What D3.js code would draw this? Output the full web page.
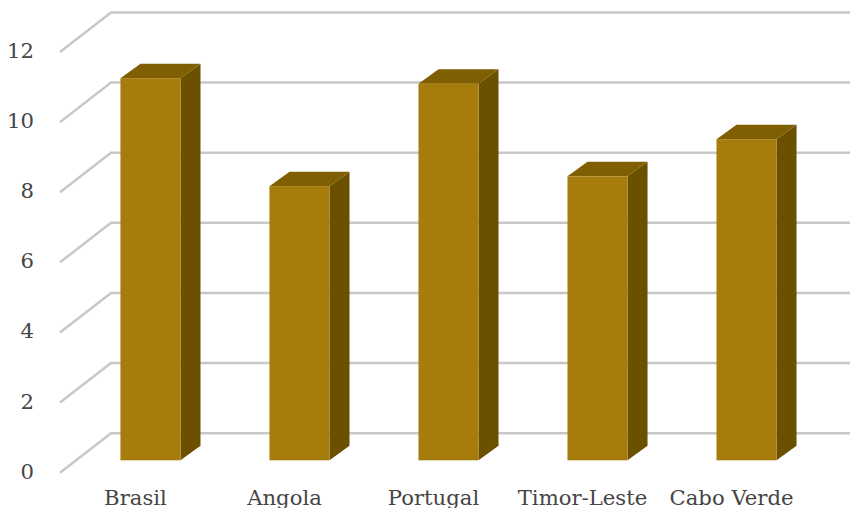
<!DOCTYPE html>
<html>
<head>
<meta charset="utf-8">
<style>
html, body { margin: 0; padding: 0; background: #fff; }
svg { display: block; }
text { font-family: "DejaVu Serif", serif; fill: #454545; }
</style>
<script src="https://cdn.jsdelivr.net/npm/d3@7/dist/d3.min.js"></script>
</head>
<body>
<svg id="chart" width="850" height="508"></svg>
<script>
const categories = ["Brasil", "Angola", "Portugal", "Timor-Leste", "Cabo Verde"];
const values = [10.9, 7.82, 10.74, 8.1, 9.16];
const yTicks = [0, 2, 4, 6, 8, 10, 12];

const svg = d3.select("#chart");

// Pseudo-3D projection: wall depth and bar depth
const wallDx = 51, wallDy = 39.5;
const barDx = 20, barDy = 14.5;
const barBase = 460.3;

const y = d3.scaleLinear().domain([0, 12]).range([472.7, 52]);
const x = d3.scaleBand().domain(categories).range([31.5, 865.5]).padding(0.597);

// Gridlines: floor/side segment, then along the back wall
svg.append("g").selectAll("path").data(yTicks).join("path")
  .attr("fill", "none").attr("stroke", "#c8c8c8").attr("stroke-width", 2.5)
  .attr("d", d => `M60,${y(d)}L${60 + wallDx},${y(d) - wallDy}L850,${y(d) - wallDy}`);

// Value axis labels
svg.append("g").selectAll("text").data(yTicks).join("text")
  .attr("x", 34).attr("y", d => y(d) + 6)
  .attr("text-anchor", "end").attr("font-size", 21.2)
  .text(d => d);

// Bars: side, top, front faces
const bars = svg.append("g").selectAll("g").data(categories).join("g");
const heightOf = i => y(0) - y(values[i]);

bars.append("path").attr("fill", "#6b5000")
  .attr("d", (c, i) => {
    const r = x(c) + x.bandwidth(), t = barBase - heightOf(i);
    return `M${r},${barBase}L${r + barDx},${barBase - barDy}L${r + barDx},${t - barDy}L${r},${t}Z`;
  });
bars.append("path").attr("fill", "#805f03")
  .attr("d", (c, i) => {
    const l = x(c), r = l + x.bandwidth(), t = barBase - heightOf(i);
    return `M${l},${t}L${l + barDx},${t - barDy}L${r + barDx},${t - barDy}L${r},${t}Z`;
  });
bars.append("rect").attr("fill", "#a67c0c")
  .attr("x", c => x(c)).attr("width", x.bandwidth())
  .attr("y", (c, i) => barBase - heightOf(i))
  .attr("height", (c, i) => heightOf(i));

// Category labels
svg.append("g").selectAll("text").data(categories).join("text")
  .attr("x", c => x(c) + x.bandwidth() / 2 - 15).attr("y", 505)
  .attr("text-anchor", "middle").attr("font-size", 21.2)
  .text(c => c);
</script>
</body>
</html>
